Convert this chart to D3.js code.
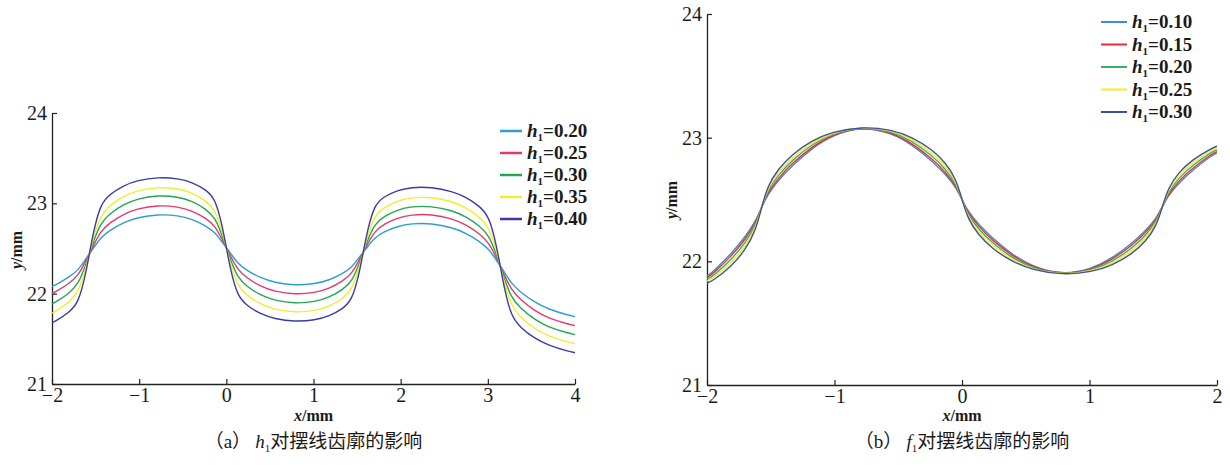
<!DOCTYPE html>
<html>
<head>
<meta charset="utf-8">
<script src="https://cdn.jsdelivr.net/npm/d3@7"></script>
<style>
body { margin: 0; background: #fff; }
</style>
</head>
<body>
<script>
// ---- panel (a): h1 effect, x from -2 to 4 ----
const xA = [-2.0, -1.963, -1.806, -1.696, -1.618,
  -1.571, -1.524, -1.445, -1.335, -1.178, -1.021, -0.785, -0.550, -0.393, -0.236, -0.126, -0.047, 0,
  0.047, 0.126, 0.236, 0.393, 0.550, 0.785, 1.021, 1.178, 1.335, 1.445, 1.524, 1.571,
  1.618, 1.696, 1.806, 1.963, 2.120, 2.356, 2.592, 2.749, 2.906, 3.016, 3.094, 3.142,
  3.189, 3.267, 3.377, 3.534, 3.691, 3.927, 4.0]

const a_h020 = [22.081, 22.095, 22.180, 22.264, 22.378,
  22.44, 22.503, 22.618, 22.703, 22.789, 22.844, 22.880, 22.865, 22.824, 22.752, 22.676, 22.569, 22.51,
  22.449, 22.338, 22.256, 22.174, 22.123, 22.090, 22.108, 22.149, 22.221, 22.296, 22.402, 22.46,
  22.515, 22.616, 22.684, 22.746, 22.777, 22.780, 22.732, 22.671, 22.579, 22.490, 22.374, 22.31,
  22.241, 22.115, 22.014, 21.906, 21.829, 21.760, 21.747]
const a_h025 = [22.003, 22.019, 22.109, 22.204, 22.352,
  22.44, 22.533, 22.688, 22.788, 22.882, 22.942, 22.980, 22.963, 22.917, 22.837, 22.747, 22.599, 22.51,
  22.419, 22.268, 22.172, 22.081, 22.025, 21.990, 22.010, 22.056, 22.137, 22.226, 22.372, 22.46,
  22.545, 22.686, 22.768, 22.839, 22.875, 22.880, 22.830, 22.764, 22.663, 22.560, 22.404, 22.31,
  22.210, 22.044, 21.929, 21.813, 21.731, 21.660, 21.647]
const a_h030 = [21.886, 21.903, 22.001, 22.109, 22.306,
  22.44, 22.577, 22.780, 22.890, 22.990, 23.051, 23.090, 23.072, 23.025, 22.939, 22.838, 22.643, 22.51,
  22.378, 22.183, 22.078, 21.982, 21.925, 21.890, 21.910, 21.957, 22.043, 22.141, 22.331, 22.46,
  22.584, 22.766, 22.855, 22.929, 22.966, 22.970, 22.921, 22.854, 22.750, 22.640, 22.443, 22.31,
  22.168, 21.958, 21.835, 21.714, 21.631, 21.560, 21.547]
const a_h035 = [21.785, 21.802, 21.902, 22.016, 22.256,
  22.44, 22.625, 22.868, 22.982, 23.082, 23.142, 23.180, 23.163, 23.117, 23.031, 22.926, 22.691, 22.51,
  22.328, 22.090, 21.979, 21.882, 21.825, 21.790, 21.810, 21.857, 21.944, 22.048, 22.281, 22.46,
  22.634, 22.858, 22.954, 23.029, 23.066, 23.070, 23.021, 22.954, 22.849, 22.732, 22.493, 22.31,
  22.118, 21.865, 21.735, 21.613, 21.531, 21.460, 21.447]
const a_h040 = [21.679, 21.695, 21.789, 21.900, 22.198,
  22.44, 22.687, 22.990, 23.103, 23.198, 23.254, 23.290, 23.275, 23.233, 23.152, 23.049, 22.752, 22.51,
  22.270, 21.975, 21.866, 21.775, 21.722, 21.690, 21.707, 21.750, 21.831, 21.933, 22.223, 22.46,
  22.694, 22.979, 23.074, 23.145, 23.178, 23.180, 23.133, 23.070, 22.969, 22.853, 22.553, 22.31,
  22.060, 21.749, 21.622, 21.506, 21.429, 21.360, 21.347]

const labelsA = ["0.20", "0.25", "0.30", "0.35", "0.40"]
const colorsA = ["#2c9fd0", "#e23a6b", "#22a650", "#f3ec30", "#3b3ba8"]
const xTicksA = [-2, -1, 0, 1, 2, 3, 4]

// ---- panel (b): f1 effect, x from -2 to 2 ----
const xB = [-2.0, -1.963, -1.806, -1.696, -1.618,
  -1.571, -1.524, -1.445, -1.335, -1.178, -1.021, -0.785, -0.550, -0.393, -0.236, -0.126, -0.047, 0,
  0.047, 0.126, 0.236, 0.393, 0.550, 0.785, 1.021, 1.178, 1.335, 1.445, 1.524, 1.571,
  1.618, 1.696, 1.806, 1.963, 2.0]

const b_h010 = [21.884, 21.905, 22.066, 22.203, 22.326,
  22.44, 22.541, 22.649, 22.771, 22.914, 23.019, 23.09, 23.037, 22.944, 22.813, 22.700, 22.597, 22.50,
  22.405, 22.304, 22.189, 22.056, 21.957, 21.89, 21.939, 22.026, 22.147, 22.253, 22.349, 22.44,
  22.532, 22.628, 22.736, 22.859, 22.876]
const b_h015 = [21.872, 21.890, 22.045, 22.182, 22.312,
  22.44, 22.553, 22.668, 22.790, 22.926, 23.025, 23.09, 23.043, 22.956, 22.832, 22.718, 22.610, 22.50,
  22.394, 22.286, 22.172, 22.044, 21.951, 21.89, 21.933, 22.014, 22.130, 22.236, 22.337, 22.44,
  22.543, 22.646, 22.753, 22.871, 22.887]
const b_h020 = [21.858, 21.870, 22.017, 22.154, 22.291,
  22.44, 22.572, 22.693, 22.815, 22.945, 23.035, 23.09, 23.053, 22.975, 22.857, 22.743, 22.628, 22.50,
  22.376, 22.263, 22.149, 22.027, 21.943, 21.89, 21.925, 21.997, 22.107, 22.213, 22.320, 22.44,
  22.561, 22.669, 22.776, 22.888, 22.902]
const b_h025 = [21.842, 21.852, 21.989, 22.126, 22.270,
  22.44, 22.591, 22.718, 22.840, 22.960, 23.041, 23.09, 23.059, 22.990, 22.882, 22.768, 22.647, 22.50,
  22.359, 22.240, 22.126, 22.012, 21.937, 21.89, 21.919, 21.982, 22.084, 22.190, 22.303, 22.44,
  22.578, 22.692, 22.799, 22.903, 22.916]
const b_h030 = [21.825, 21.836, 21.961, 22.098, 22.249,
  22.44, 22.609, 22.742, 22.864, 22.976, 23.047, 23.09, 23.065, 23.006, 22.906, 22.793, 22.666, 22.50,
  22.342, 22.217, 22.102, 21.998, 21.931, 21.89, 21.913, 21.968, 22.060, 22.166, 22.285, 22.44,
  22.595, 22.715, 22.823, 22.917, 22.931]

const labelsB = ["0.10", "0.15", "0.20", "0.25", "0.30"]
const colorsB = ["#3e8ec8", "#ee2a36", "#35b06e", "#f5ee1c", "#3d4ea6"]
const xTicksB = [-2, -1, 0, 1, 2]

const yTicks = [21, 22, 23, 24]

const serif = "Liberation Serif"
const cjk = "Noto Sans CJK SC"

let svg = d3.select("body")
  .append("svg")
  .attr("width", 1230)
  .attr("height", 465)
  .style("font-family", serif)

function drawPanel(p) {
  let x = d3.scaleLinear().domain(p.xDomain).range(p.xRange)
  let y = d3.scaleLinear().domain([21, 24]).range(p.yRange)
  let g = svg.append("g")

  // axes, ticks pointing inward
  let xAxis = d3.axisBottom(x).tickValues(p.xTicks).tickFormat(d3.format("d"))
    .tickSizeInner(-5).tickSizeOuter(0).tickPadding(4)
  let yAxis = d3.axisLeft(y).tickValues(yTicks).tickFormat(d3.format("d"))
    .tickSizeInner(-5).tickSizeOuter(0).tickPadding(5)

  let gx = g.append("g").attr("transform", "translate(0," + p.yRange[0] + ")").call(xAxis)
  let gy = g.append("g").attr("transform", "translate(" + p.xRange[0] + ",0)").call(yAxis)

  ;[gx, gy].forEach(a => {
    a.attr("font-family", null).attr("font-size", null)
    a.select(".domain").attr("stroke", "#222").attr("stroke-width", 1.3)
    a.selectAll(".tick line").attr("stroke", "#222").attr("stroke-width", 1.2)
    a.selectAll(".tick text").attr("fill", "#1a1a1a")
      .style("font-family", serif).style("font-size", "20px")
  })

  // curves (smoothed through the read-off points)
  let line = d3.line()
    .x((d, i) => x(p.xs[i]))
    .y(d => y(d))
    .curve(d3.curveBasis)

  p.series.forEach((s, i) => {
    g.append("path")
      .attr("d", line(s))
      .attr("fill", "none")
      .attr("stroke", p.colors[i])
      .attr("stroke-width", 1.4)
  })

  // legend
  p.labels.forEach((lab, i) => {
    let ly = p.legY + i * p.legDy
    g.append("line")
      .attr("x1", p.legX).attr("x2", p.legX + p.legLen)
      .attr("y1", ly).attr("y2", ly)
      .attr("stroke", p.colors[i])
      .attr("stroke-width", p.legSw)
    let t = g.append("text")
      .attr("x", p.legX + p.legLen + 5)
      .attr("y", ly + 6)
      .attr("fill", "#1a1a1a")
      .style("font-size", "19px")
      .style("font-weight", "bold")
    t.append("tspan").style("font-style", "italic").text("h")
    t.append("tspan").style("font-size", "11px").attr("dy", 4).text("1")
    t.append("tspan").attr("dy", -4).text("=" + lab)
  })

  // axis titles
  let yl = g.append("text")
    .attr("transform", "translate(" + p.yLabX + "," + p.yLabY + ") rotate(-90)")
    .attr("text-anchor", "middle")
    .attr("fill", "#1a1a1a")
    .style("font-size", "16px")
    .style("font-weight", "bold")
  yl.append("tspan").style("font-style", "italic").text("y")
  yl.append("tspan").text("/mm")

  let midX = (p.xRange[0] + p.xRange[1]) / 2
  let xl = g.append("text")
    .attr("x", midX).attr("y", 421)
    .attr("text-anchor", "middle")
    .attr("fill", "#1a1a1a")
    .style("font-size", "16px")
    .style("font-weight", "bold")
  xl.append("tspan").style("font-style", "italic").text("x")
  xl.append("tspan").text("/mm")

  // caption
  let cap = g.append("text")
    .attr("x", midX).attr("y", 448)
    .attr("text-anchor", "middle")
    .attr("fill", "#1a1a1a")
    .style("font-size", "19px")
  cap.append("tspan").style("font-family", cjk).text("（")
  cap.append("tspan").text(p.tag)
  cap.append("tspan").style("font-family", cjk).text("） ")
  cap.append("tspan").style("font-style", "italic").text(p.sym)
  cap.append("tspan").style("font-size", "11px").attr("dy", 4).text("1")
  cap.append("tspan").attr("dy", -4).style("font-family", cjk).text("对摆线齿廓的影响")
}

drawPanel({
  xs: xA, series: [a_h020, a_h025, a_h030, a_h035, a_h040],
  labels: labelsA, colors: colorsA, xTicks: xTicksA,
  xDomain: [-2, 4], xRange: [52, 575], yRange: [384, 113],
  legX: 500, legY: 131, legDy: 22, legLen: 22, legSw: 2.5,
  yLabX: 22, yLabY: 250, tag: "a", sym: "h"
})

drawPanel({
  xs: xB, series: [b_h010, b_h015, b_h020, b_h025, b_h030],
  labels: labelsB, colors: colorsB, xTicks: xTicksB,
  xDomain: [-2, 2], xRange: [707, 1217], yRange: [385, 14],
  legX: 1101, legY: 22, legDy: 22.5, legLen: 26, legSw: 2,
  yLabX: 677, yLabY: 200, tag: "b", sym: "f"
})
</script>
</body>
</html>
